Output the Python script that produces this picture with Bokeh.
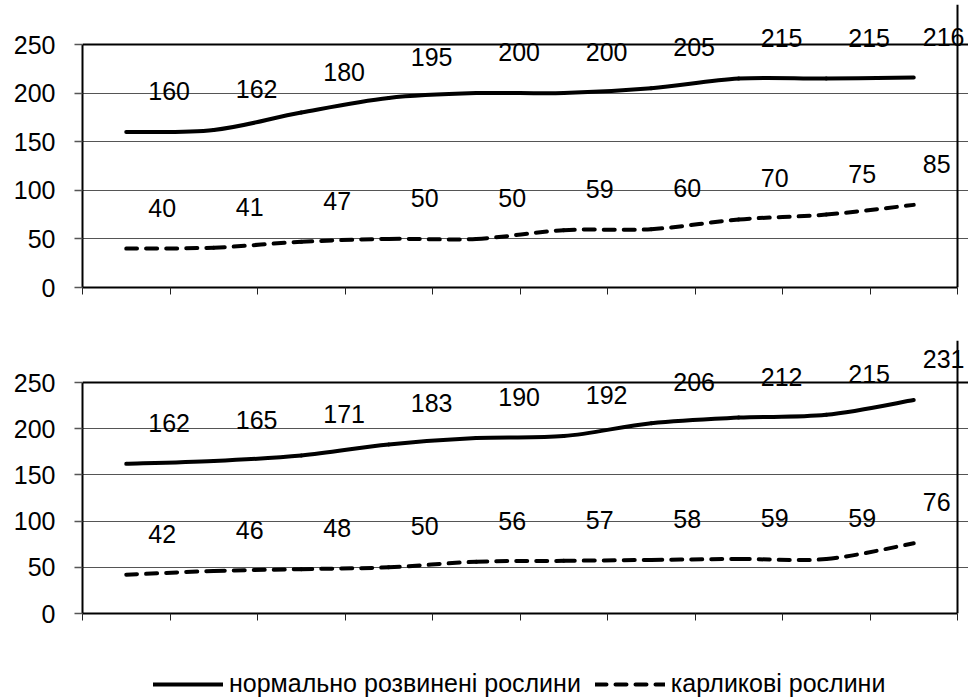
from bokeh.plotting import figure
from bokeh.models import (FixedTicker, ColumnDataSource, Label, Legend, LegendItem,
                          CustomJSTickFormatter, Range1d, Grid)
from bokeh.layouts import column
from bokeh.embed import file_html
from bokeh.resources import INLINE

# ---- data ----
positions = list(range(1, 11))
normal_1 = [160, 162, 180, 195, 200, 200, 205, 215, 215, 216]
dwarf_1 = [40, 41, 47, 50, 50, 59, 60, 70, 75, 85]
normal_2 = [162, 165, 171, 183, 190, 192, 206, 212, 215, 231]
dwarf_2 = [42, 46, 48, 50, 56, 57, 58, 59, 59, 76]
y_ticks = [0, 50, 100, 150, 200, 250]
series_names = ["нормально розвинені рослини", "карликові рослини"]

FONT = "Liberation Sans"
FSIZE = "25px"

X_LO = positions[0] - 0.5
X_HI = positions[-1] + 0.5
Y_TOP = y_ticks[-1]
FIG_W = 968
FRAME_LEFT = 82
PX_PER_CAT = 87.5


def bezier_source(xs, ys):
    n = len(xs)
    d = dict(x0=[], y0=[], x1=[], y1=[], cx0=[], cy0=[], cx1=[], cy1=[])
    for i in range(n - 1):
        xa, ya = xs[max(i - 1, 0)], ys[max(i - 1, 0)]
        xb, yb = xs[i], ys[i]
        xc, yc = xs[i + 1], ys[i + 1]
        xd, yd = xs[min(i + 2, n - 1)], ys[min(i + 2, n - 1)]
        d["x0"].append(xb); d["y0"].append(yb)
        d["x1"].append(xc); d["y1"].append(yc)
        d["cx0"].append(xb + (xc - xa) / 6.0); d["cy0"].append(yb + (yc - ya) / 6.0)
        d["cx1"].append(xc - (xd - xb) / 6.0); d["cy1"].append(yc - (yd - yb) / 6.0)
    return ColumnDataSource(d)


def add_series(p, normal, dwarf):
    r_n = p.bezier(x0="x0", y0="y0", x1="x1", y1="y1", cx0="cx0", cy0="cy0",
                   cx1="cx1", cy1="cy1", source=bezier_source(positions, normal),
                   line_color="black", line_width=4, line_cap="round")
    r_d = p.bezier(x0="x0", y0="y0", x1="x1", y1="y1", cx0="cx0", cy0="cy0",
                   cx1="cx1", cy1="cy1", source=bezier_source(positions, dwarf),
                   line_color="black", line_width=4, line_dash="11 9", line_cap="round")
    return r_n, r_d


def make_panel(normal, dwarf, height, frame_top_px, grid_px, border_bottom):
    frame_h = height - frame_top_px - border_bottom
    y_hi = Y_TOP * frame_h / grid_px
    x_hi = X_LO + (FIG_W - FRAME_LEFT) / PX_PER_CAT
    p = figure(width=FIG_W, height=height, output_backend="svg", toolbar_location=None,
               x_range=Range1d(X_LO, x_hi), y_range=Range1d(0, y_hi),
               min_border_left=FRAME_LEFT, min_border_right=0,
               min_border_top=frame_top_px, min_border_bottom=border_bottom)
    p.background_fill_color = "white"
    p.border_fill_color = "white"
    p.outline_line_color = None

    # x axis (category boundaries, no labels)
    p.xaxis.ticker = FixedTicker(ticks=[x + 0.5 for x in [X_LO - 0.5] + positions])
    p.xaxis.formatter = CustomJSTickFormatter(code="return ''")
    p.xaxis.major_label_text_font_size = "1px"
    p.xaxis.major_label_standoff = 0
    p.xaxis.major_tick_out = 7
    p.xaxis.major_tick_in = 0
    p.xaxis.minor_tick_line_color = None
    p.xaxis.axis_line_color = "black"
    p.xaxis.axis_line_width = 2
    p.xaxis.major_tick_line_color = "#222222"
    p.xaxis.major_tick_line_width = 1
    p.xaxis.bounds = (X_LO, X_HI)

    # y axis
    p.yaxis.ticker = FixedTicker(ticks=y_ticks)
    p.yaxis.major_tick_out = 8
    p.yaxis.major_tick_in = 0
    p.yaxis.minor_tick_line_color = None
    p.yaxis.axis_line_color = "black"
    p.yaxis.axis_line_width = 2
    p.yaxis.major_tick_line_color = "#555555"
    p.yaxis.major_tick_line_width = 1.5
    p.yaxis.major_label_text_font = FONT
    p.yaxis.major_label_text_font_size = FSIZE
    p.yaxis.major_label_text_color = "black"
    p.yaxis.major_label_standoff = 19
    p.yaxis.bounds = (0, Y_TOP)

    # grid + frame box
    p.xgrid.grid_line_color = None
    p.ygrid.ticker = FixedTicker(ticks=y_ticks)
    p.ygrid.grid_line_color = "#555555"
    p.ygrid.grid_line_width = 1
    p.ygrid.bounds = (X_LO, X_HI)
    p.add_layout(Grid(dimension=1, ticker=FixedTicker(ticks=[Y_TOP]), bounds=(X_LO, X_HI),
                      grid_line_color="black", grid_line_width=2))
    p.add_layout(Grid(dimension=0, ticker=FixedTicker(ticks=[X_HI]), bounds=(0, Y_TOP),
                      grid_line_color="black", grid_line_width=2))

    add_series(p, normal, dwarf)

    n = len(positions)
    for vals in (normal, dwarf):
        for i, (xv, yv) in enumerate(zip(positions, vals)):
            p.add_layout(Label(x=xv, y=yv, text=str(yv),
                               x_offset=(22 if i < n - 1 else 9), y_offset=41,
                               text_align="left", text_baseline="alphabetic",
                               text_font=FONT, text_font_size=FSIZE,
                               text_color="black"))
    return p


# top: frame 4..287 (grid 44..287), bottom: frame 340..613 (grid 382..613)
p1 = make_panel(normal_1, dwarf_1, 322, 4, 243, 35)
p2 = make_panel(normal_2, dwarf_2, 318, 18, 231, 27)

# legend strip
pl = figure(width=FIG_W, height=60, output_backend="svg", toolbar_location=None,
            x_range=Range1d(0, 1), y_range=Range1d(0, 1), x_axis_type=None, y_axis_type=None,
            min_border=0)
pl.outline_line_color = None
pl.xgrid.grid_line_color = None
pl.ygrid.grid_line_color = None
ln, ld = add_series(pl, normal_2, dwarf_2)
legend = Legend(items=[LegendItem(label=series_names[0], renderers=[ln]),
                       LegendItem(label=series_names[1], renderers=[ld])],
                orientation="horizontal", location=(71, 2),
                border_line_alpha=0, background_fill_alpha=0,
                padding=0, margin=0, spacing=14, glyph_width=70, glyph_height=20,
                label_standoff=6, label_text_font=FONT, label_text_font_size=FSIZE,
                label_text_color="black")
pl.add_layout(legend, "center")

layout = column(p1, p2, pl, spacing=0)
open("out.html", "w").write(file_html(layout, INLINE))
